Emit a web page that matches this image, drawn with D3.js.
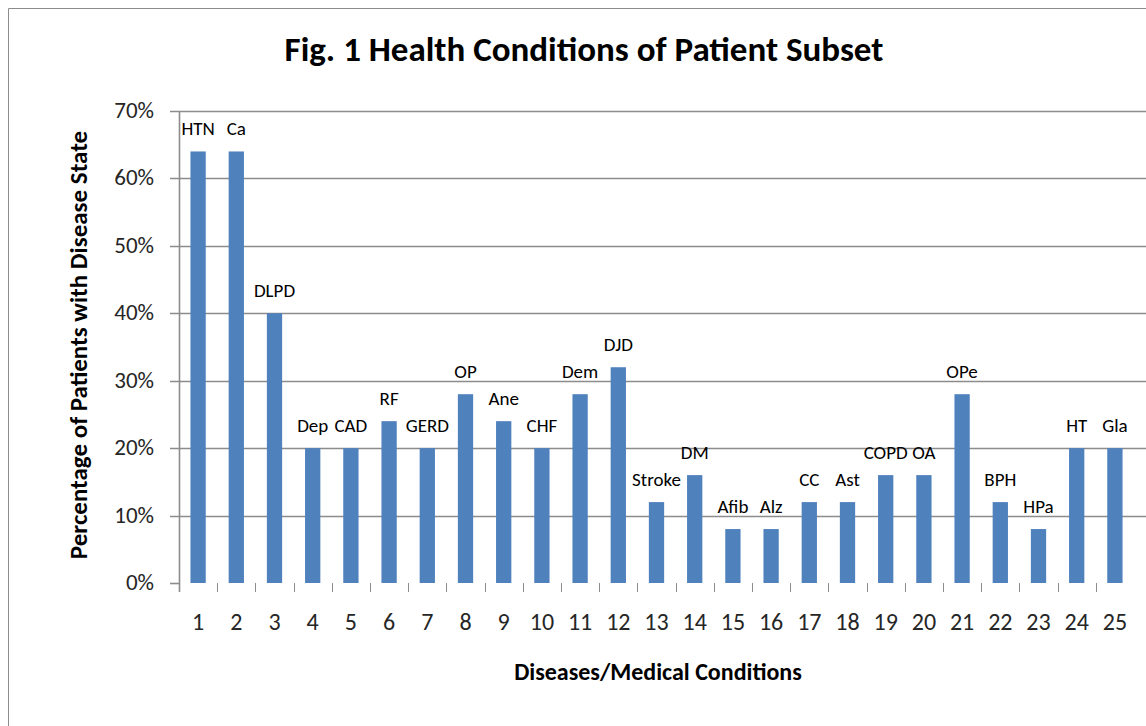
<!DOCTYPE html>
<html><head><meta charset="utf-8">
<script src="https://cdn.jsdelivr.net/npm/d3@7"></script>
<style>body{margin:0;background:#fff}svg{display:block}</style>
</head><body>
<svg id="c" width="1146" height="726"></svg>
<script>
const categories = ["1","2","3","4","5","6","7","8","9","10","11","12","13","14","15","16","17","18","19","20","21","22","23","24","25"];
const labels = ["HTN","Ca","DLPD","Dep","CAD","RF","GERD","OP","Ane","CHF","Dem","DJD","Stroke","DM","Afib","Alz","CC","Ast","COPD","OA","OPe","BPH","HPa","HT","Gla"];
const values = [64,64,40,20,20,24,20,28,24,20,28,32,12,16,8,8,12,12,16,16,28,12,8,20,20];
const yTicks = [0,10,20,30,40,50,60,70];

(function(){
const svg = d3.select("#c");
const font = "Calibri, Carlito, 'Open Sans', 'Liberation Sans', sans-serif";
const pL = 179, pR = 1134, pT = 111, pB = 583;

svg.append("path").attr("d","M8.5,726 V8.5 H1146").attr("fill","none").attr("stroke","#8c8c8c").attr("stroke-width",1);

const x = d3.scaleBand().domain(categories).range([pL, pR]).paddingInner(0.6).paddingOuter(0.3);
const y = d3.scaleLinear().domain([0,70]).range([pB, pT]);

svg.append("g").selectAll("line").data(yTicks.slice(1)).join("line")
  .attr("x1", pL-9).attr("x2", 1146).attr("y1", d=>Math.round(y(d))+0.5).attr("y2", d=>Math.round(y(d))+0.5)
  .attr("stroke","#8c8c8c").attr("stroke-width",1.6);
svg.append("line").attr("x1",pL-9).attr("x2",pL).attr("y1",pB+0.5).attr("y2",pB+0.5).attr("stroke","#8c8c8c").attr("stroke-width",1.6);

svg.append("line").attr("x1",pL+0.5).attr("x2",pL+0.5).attr("y1",pT).attr("y2",pB+9).attr("stroke","#8c8c8c").attr("stroke-width",1.6);

const step = x.step();
const bounds = categories.map(c=> x(c) - (step - x.bandwidth())/2);
svg.append("g").selectAll("line").data(bounds.slice(1)).join("line")
  .attr("x1",d=>Math.round(d)+0.5).attr("x2",d=>Math.round(d)+0.5).attr("y1",pB).attr("y2",pB+9)
  .attr("stroke","#8c8c8c").attr("stroke-width",1);

svg.append("g").selectAll("rect").data(values).join("rect")
  .attr("x",(d,i)=>x(categories[i])).attr("width",x.bandwidth())
  .attr("y",d=>y(d)).attr("height",d=>pB-y(d)).attr("fill","#4F81BD");

svg.append("g").selectAll("text").data(values).join("text")
  .attr("x",(d,i)=>x(categories[i])+x.bandwidth()/2).attr("y",d=>y(d)-16)
  .attr("text-anchor","middle").attr("font-family",font).attr("font-size",19).attr("fill","#000")
  .text((d,i)=>labels[i]);

svg.append("g").selectAll("text").data(yTicks).join("text")
  .attr("x",154).attr("y",d=>y(d)+7).attr("text-anchor","end")
  .attr("font-family",font).attr("font-size",23).attr("fill","#262626")
  .text(d=>d+"%");

svg.append("g").selectAll("text").data(categories).join("text")
  .attr("x",d=>x(d)+x.bandwidth()/2).attr("y",630).attr("text-anchor","middle")
  .attr("font-family",font).attr("font-size",24).attr("fill","#262626")
  .text(d=>d);

svg.append("text").attr("x",584).attr("y",61).attr("text-anchor","middle")
  .attr("font-family",font).attr("font-weight","bold").attr("font-size",35).attr("fill","#000")
  .text("Fig. 1 Health Conditions of Patient Subset");

svg.append("text").attr("x",658).attr("y",680).attr("text-anchor","middle")
  .attr("font-family",font).attr("font-weight","bold").attr("font-size",24).attr("fill","#000")
  .text("Diseases/Medical Conditions");

svg.append("text").attr("transform","translate(87,345) rotate(-90)").attr("text-anchor","middle")
  .attr("font-family",font).attr("font-weight","bold").attr("font-size",25).attr("fill","#000")
  .text("Percentage of Patients with Disease State");
})();
</script>
</body></html>
